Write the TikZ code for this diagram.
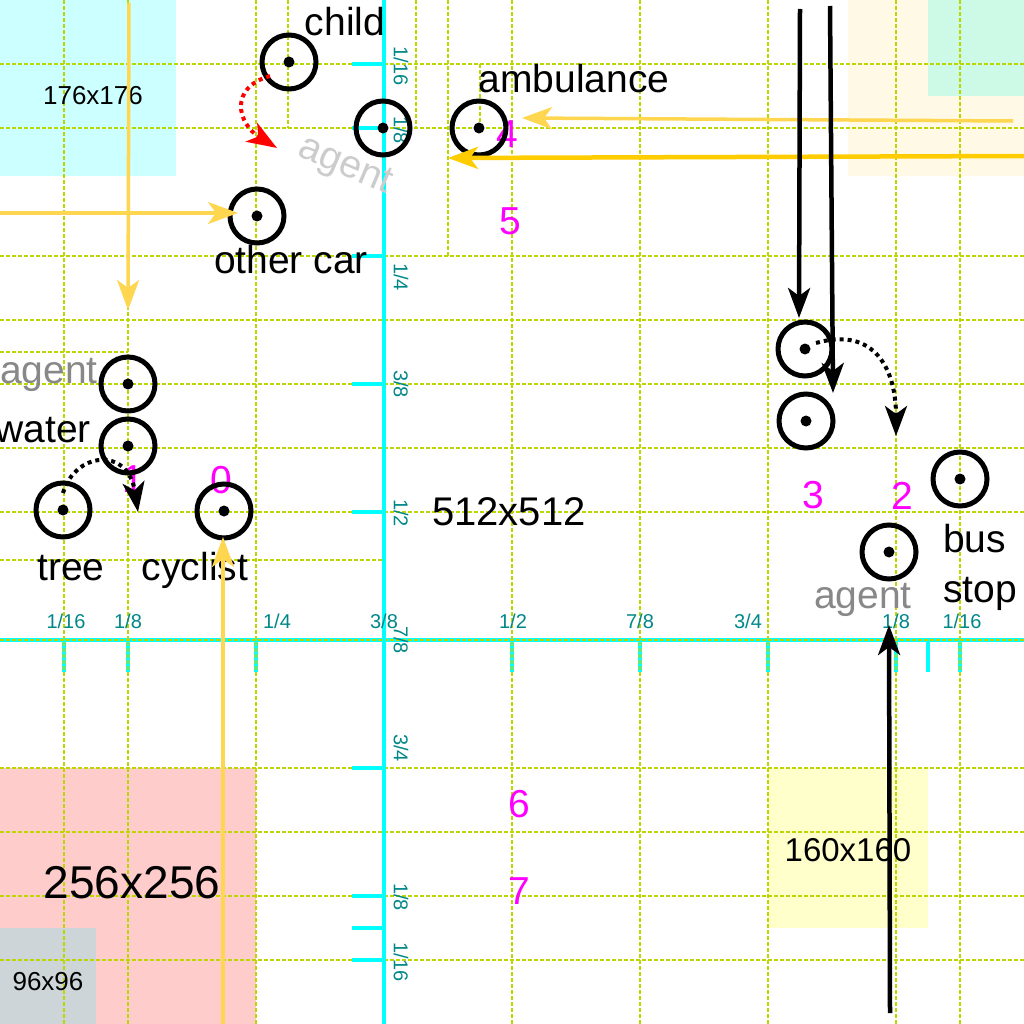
\documentclass[tikz,border=0pt]{standalone}
\usepackage{fontspec}
\setmainfont{Liberation Sans}
\usetikzlibrary{arrows.meta}
\definecolor{gridc}{RGB}{188,214,0}
\definecolor{axcyan}{RGB}{0,255,255}
\definecolor{axteal}{RGB}{0,136,136}
\definecolor{bgcyan}{RGB}{204,255,255}
\definecolor{bgcream}{RGB}{255,249,230}
\definecolor{bggreen}{RGB}{204,250,230}
\definecolor{bgpink}{RGB}{255,204,204}
\definecolor{bggray}{RGB}{205,213,216}
\definecolor{bgyellow}{RGB}{255,255,204}
\definecolor{yel}{RGB}{255,214,79}
\definecolor{gold}{RGB}{255,204,0}
\definecolor{mag}{RGB}{255,0,255}
\definecolor{agray}{RGB}{136,136,136}
\definecolor{lgray}{RGB}{204,204,204}
\begin{document}
\begin{tikzpicture}[x=1pt,y=-1pt,
  gridline/.style={draw=gridc, line width=1.8pt, dash pattern=on 4pt off 2pt},
  axisline/.style={draw=axcyan, line width=4pt},
  ticksty/.style={draw=axcyan, line width=4pt},
  axlab/.style={text=axteal, font=\fontsize{20}{24}\selectfont, inner sep=0pt},
  num/.style={text=mag, font=\fontsize{39}{46}\selectfont, inner sep=0pt, anchor=base},
  lab/.style={font=\fontsize{39}{47}\selectfont, inner sep=0pt, anchor=base},
  sizelab/.style={inner sep=0pt, anchor=base},
  obj/.style={circle, draw, line width=5pt, minimum size=54pt, inner sep=0pt},
  tipsty/.style={-{Stealth[length=30pt,width=22pt,inset=8pt]}},
  ylw/.style={draw=yel, line width=3.5pt, tipsty},
  gld/.style={draw=gold, line width=4.5pt, tipsty},
  blk/.style={draw=black, line width=4.5pt, tipsty},
  dotblk/.style={draw=black, line width=4pt, dash pattern=on 4pt off 4pt, tipsty},
  dotred/.style={draw=red, line width=4pt, dash pattern=on 4pt off 4pt, -{Stealth[length=30pt,width=22pt,inset=8pt,red]}}
]
\useasboundingbox (0,0) rectangle (1024,1024);
\clip (0,0) rectangle (1024,1024);
% backgrounds
\fill[white] (0,0) rectangle (1024,1024);
\fill[bgcyan] (0,0) rectangle (176,176);
\fill[bgcream] (848,0) rectangle (1024,176);
\fill[bggreen] (928,0) rectangle (1024,96);
\fill[bgpink] (0,768) rectangle (256,1024);
\fill[bggray] (0,928) rectangle (96,1024);
\fill[bgyellow] (768,768) rectangle (928,928);
% horizontal axis with ticks
\draw[axisline] (0,640) -- (1024,640);
\foreach \x in {64,128,256,512,640,768,896,928,960} \draw[ticksty] (\x,640) -- (\x,672);
% grid
\foreach \x in {64,128,256,512,640,768,896,960} \draw[gridline] (\x,0) -- (\x,1024);
\foreach \y in {64,128,256,320,384,448,512,640,768,832,896,960} \draw[gridline] (0,\y) -- (1024,\y);
\draw[gridline] (288,0) -- (288,128);
\draw[gridline] (416,0) -- (416,128);
\draw[gridline] (448,0) -- (448,256);
\draw[gridline] (480,64) -- (480,128);
\draw[gridline] (0,352) -- (128,352);
\draw[gridline] (0,560) -- (384,560);
% vertical axis with ticks
\draw[axisline] (384,0) -- (384,1024);
\foreach \y in {64,128,256,384,512,768,896,928,960} \draw[ticksty] (352,\y) -- (384,\y);
% axis labels (horizontal)
\node[axlab, anchor=base] (h1) at (66,628) {1/16};
\node[axlab, anchor=base] (h2) at (128,628) {1/8};
\node[axlab, anchor=base] (h3) at (277,628) {1/4};
\node[axlab, anchor=base] (h4) at (384,628) {3/8};
\node[axlab, anchor=base] (h5) at (513,628) {1/2};
\node[axlab, anchor=base] (h6) at (640,628) {7/8};
\node[axlab, anchor=base] (h7) at (748,628) {3/4};
\node[axlab, anchor=base] (h8) at (896,628) {1/8};
\node[axlab, anchor=base] (h9) at (962,628) {1/16};
% axis labels (vertical)
\node[axlab, rotate=-90] (v1) at (401,66) {1/16};
\node[axlab, rotate=-90] (v2) at (401,130) {1/8};
\node[axlab, rotate=-90] (v3) at (401,277) {1/4};
\node[axlab, rotate=-90] (v4) at (401,384) {3/8};
\node[axlab, rotate=-90] (v5) at (401,513) {1/2};
\node[axlab, rotate=-90] (v6) at (401,640) {7/8};
\node[axlab, rotate=-90] (v7) at (401,748) {3/4};
\node[axlab, rotate=-90] (v8) at (401,897) {1/8};
\node[axlab, rotate=-90] (v9) at (401,962) {1/16};
% size labels
\node[sizelab, font=\fontsize{26}{31}\selectfont] (s176) at (93,105) {176x176};
\node[sizelab, font=\fontsize{40}{48}\selectfont] (s512) at (509,525) {512x512};
\node[sizelab, font=\fontsize{46}{55}\selectfont] (s256) at (132,898) {256x256};
\node[sizelab, font=\fontsize{26}{31}\selectfont] (s96) at (48,990) {96x96};
\node[sizelab, font=\fontsize{33}{40}\selectfont] (s160) at (848,861) {160x160};
% magenta numbers
\node[num] (n0) at (221,493) {0};
\node[num] (n1) at (133,492) {1};
\node[num] (n2) at (902,509) {2};
\node[num] (n3) at (813,508) {3};
\node[num] (n4) at (507,148) {4};
\node[num] (n5) at (510,235) {5};
\node[num] (n6) at (519,817) {6};
\node[num] (n7) at (519,904) {7};
% text labels
\node[lab] (lchild) at (345,36) {child};
\node[lab] (lamb) at (574,93) {ambulance};
\node[lab] (lother) at (291,273) {other car};
\node[lab, text=agray] (lagentL) at (49,383) {agent};
\node[lab] (lwater) at (43,442) {water};
\node[lab] (ltree) at (71,580) {tree};
\node[lab] (lcyc) at (195,580) {cyclist};
\node[lab, anchor=base west] (lbus) at (943,552) {bus};
\node[lab, anchor=base west] (lstop) at (943,602) {stop};
\node[lab, text=agray] (lagentR) at (863,608) {agent};
\node[font=\fontsize{39}{47}\selectfont, text=lgray, inner sep=0pt, rotate=-23] (lagentM) at (345,167) {agent};
% objects
\foreach \n/\p in {child/{(289,62)}, hub/{(383,128)}, amb/{(479,128)}, other/{(257,216)},
  agentL/{(128,384)}, water/{(128,446)}, tree/{(63,510)}, cyc/{(224,511)},
  ra/{(805,349)}, rb/{(806,421)}, bus/{(960,479)}, agentR/{(889,552)}} {
  \node[obj] (\n) at \p {};
  \fill (\n.center) circle[radius=5.5pt];
}
% coordinates for free arrow ends
\coordinate (a1s) at (129,3);   \coordinate (a1e) at (128,310);
\coordinate (a2s) at (0,213);   \coordinate (a2e) at (238,213);
\coordinate (a3s) at (1013,121); \coordinate (a3e) at (522,118);
\coordinate (a4s) at (1024,156); \coordinate (a4e) at (448,158);
\coordinate (a5s) at (223,1024); \coordinate (a5e) at (223,537);
\coordinate (a6s) at (800,9);   \coordinate (a6e) at (799,318);
\coordinate (a7s) at (830,6);   \coordinate (a7e) at (833,393);
\coordinate (a8s) at (890,1013); \coordinate (a8e) at (889,625);
\coordinate (d1s) at (816,343); \coordinate (d1e) at (896,436);
\coordinate (d2s) at (63,493);  \coordinate (d2e) at (138,512);
\coordinate (d3s) at (270,76);  \coordinate (d3e) at (277,148);
% arrows
\draw[ylw] (a1s) -- (a1e);
\draw[ylw] (a2s) -- (a2e);
\draw[ylw] (a3s) -- (a3e);
\draw[gld] (a4s) -- (a4e);
\draw[ylw] (a5s) -- (a5e);
\draw[blk] (a6s) -- (a6e);
\draw[blk] (a7s) -- (a7e);
\draw[blk] (a8s) -- (a8e);
\draw[dotblk] (d1s) .. controls (875,326) and (896,370) .. (d1e);
\draw[dotblk] (d2s) .. controls (75,452) and (128,446) .. (d2e);
\draw[dotred] (d3s) .. controls (228,88) and (238,124) .. (d3e);
\end{tikzpicture}
\end{document}
